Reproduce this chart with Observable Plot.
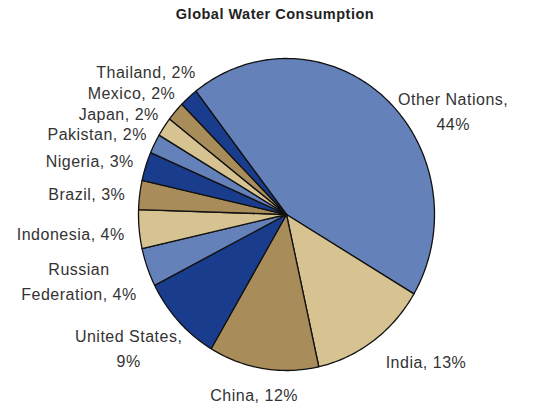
<!DOCTYPE html>
<html><head><meta charset="utf-8">
<script src="https://cdn.jsdelivr.net/npm/d3@7"></script>
<script src="https://cdn.jsdelivr.net/npm/@observablehq/plot@0.6"></script>
<style>body{margin:0;background:#fff;} svg{display:block}</style>
</head><body><div id="chart"></div>
<script>
const title = "Global Water Consumption";
const countries = ["Other Nations","India","China","United States","Russian Federation","Indonesia","Brazil","Nigeria","Pakistan","Japan","Mexico","Thailand"];
const shares = [44,13,12,9,4,4,3,3,2,2,2,2];
const labelTexts = ["Other Nations,\n44%","India, 13%","China, 12%","United States,\n9%","Russian\nFederation, 4%","Indonesia, 4%","Brazil, 3%","Nigeria, 3%","Pakistan, 2%","Japan, 2%","Mexico, 2%","Thailand, 2%"];
const palette = ["#6481b9","#d7c391","#a88c5a","#1a3c8c"];

const W = 553, H = 408, cx = 286, cy = 214, rx = 148, ry = 156;
const startDeg = -37.8;
const fontFamily = "'Liberation Sans', Arial, sans-serif";
const fontSize = 16, lineH = 25 / 16, spacing = 0.5;

const total = d3.sum(shares);
const deg = Math.PI / 180;
let acc = startDeg * deg;
const slices = countries.map((c, i) => {
  const a0 = acc, a1 = acc + shares[i] / total * 2 * Math.PI;
  acc = a1;
  return {country: c, a0, a1, mid: (a0 + a1) / 2, label: labelTexts[i]};
});

// slice outlines
const pts = [];
for (const s of slices) {
  pts.push({country: s.country, x: 0, y: 0});
  const n = Math.max(2, Math.ceil((s.a1 - s.a0) / deg));
  for (let k = 0; k <= n; k++) {
    const a = s.a0 + (s.a1 - s.a0) * k / n;
    pts.push({country: s.country, x: Math.sin(a), y: -Math.cos(a)});
  }
  pts.push({country: s.country, x: 0, y: 0});
}

// label placement (outside end, Excel-like)
const ctx = document.createElement("canvas").getContext("2d");
ctx.font = `${fontSize}px ${fontFamily}`;
const r0 = 1.1;
const lab = slices.map(s => {
  const ux = Math.sin(s.mid), uy = -Math.cos(s.mid);
  const lines = s.label.split("\n");
  const w = d3.max(lines, l => ctx.measureText(l).width + spacing * l.length);
  const h = fontSize * 1.15 + (lines.length - 1) * fontSize * lineH;
  const Px = cx + r0 * rx * ux, Py = cy + r0 * ry * uy;
  let px, py, side;
  if (ux > 0.3) { px = cx + 1.14 * rx * ux + w / 2; py = cy + 1.08 * ry * uy + h / 2; side = "right"; }
  else { px = Px + ux * w / 2; py = Py + uy * h / 2; side = ux < -0.3 ? "left" : "mid"; }
  return {label: s.label, px, py, h, side};
});
// push overlapping left labels upward
const left = lab.filter(d => d.side === "left").sort((a, b) => a.py - b.py);
for (let i = left.length - 2; i >= 0; i--) {
  const gap = (left[i].h + left[i + 1].h) / 2 + 2.5;
  if (left[i].py > left[i + 1].py - gap) left[i].py = left[i + 1].py - gap;
}
const labels = lab.map(d => ({label: d.label, x: (d.px - cx) / rx, y: (d.py - cy) / ry}));

const chart = Plot.plot({
  width: W, height: H,
  marginTop: 0, marginRight: 0, marginBottom: 0, marginLeft: 0,
  style: {fontFamily, background: "#fff", letterSpacing: `${spacing}px`},
  x: {domain: [-1, 1], range: [cx - rx, cx + rx], axis: null},
  y: {domain: [-1, 1], range: [cy - ry, cy + ry], axis: null},
  color: {domain: countries, range: countries.map((_, i) => palette[i % 4])},
  marks: [
    Plot.line(pts, {x: "x", y: "y", z: "country", fill: "country", stroke: "#111", strokeWidth: 1.3, strokeLinejoin: "round"}),
    Plot.text(labels, {x: "x", y: "y", text: "label", textAnchor: "middle", lineAnchor: "middle", fontSize, lineHeight: lineH, fill: "#333"}),
    Plot.text([title], {frameAnchor: "top", dy: 8, dx: -2, lineAnchor: "top", text: d => d, fontWeight: "bold", fontSize: 14.5, fill: "#222"})
  ]
});
document.getElementById("chart").appendChild(chart);
</script></body></html>
